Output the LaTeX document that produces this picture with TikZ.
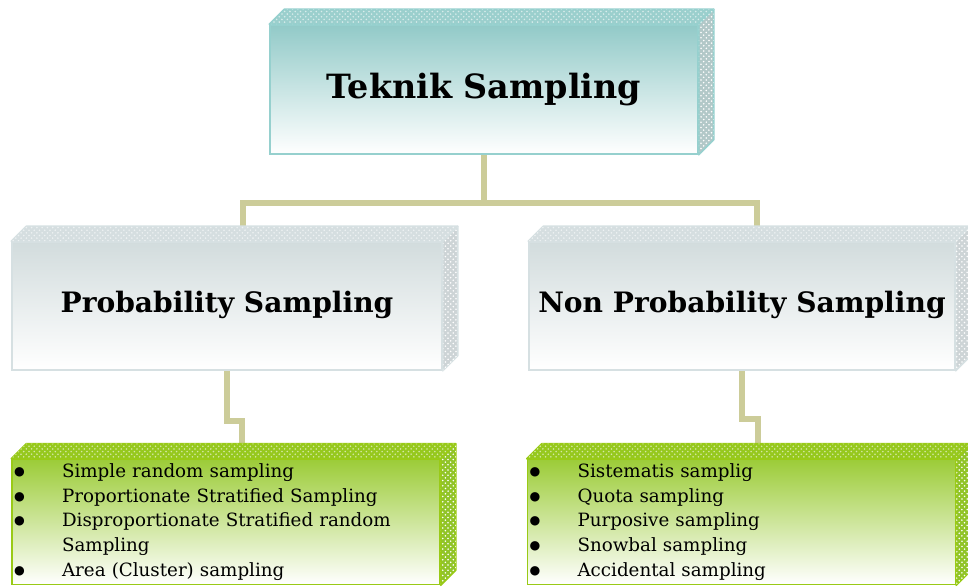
\documentclass[tikz,border=0pt]{standalone}
\usepackage{fontspec}
\setmainfont{DejaVu Serif}
\newfontfamily\dotfont{DejaVu Sans}
\usepackage{xcolor}
\usetikzlibrary{positioning, calc, patterns, backgrounds}

\definecolor{topteal}{RGB}{146,202,200}
\definecolor{edgeteal}{RGB}{150,208,206}
\definecolor{roofteal}{RGB}{155,207,205}
\definecolor{sideteal}{RGB}{178,200,200}
\definecolor{topgrey}{RGB}{210,220,221}
\definecolor{edgegrey}{RGB}{214,224,226}
\definecolor{roofgrey}{RGB}{213,222,224}
\definecolor{sidegrey}{RGB}{205,212,214}
\definecolor{topgreen}{RGB}{156,204,56}
\definecolor{edgegreen}{RGB}{153,202,22}
\definecolor{roofgreen}{RGB}{150,200,30}
\definecolor{sidegreen}{RGB}{145,196,40}
\definecolor{linkcol}{RGB}{204,204,153}

\newcommand{\bul}{\raisebox{1.1pt}{\dotfont\fontsize{7}{7}\selectfont ●}}

\tikzset{
    block/.style={draw=edge#1, line width=0.9pt, shading=axis,
        top color=top#1, bottom color=white, inner sep=0pt},
    headtext/.style={font=\fontsize{#1}{#1}\selectfont\bfseries},
    listbox/.style={block=green, minimum width=8.56cm, minimum height=2.5cm,
        text width=8.48cm, align=left, inner xsep=0.04cm,
        font=\fontsize{10.4}{14}\selectfont},
    link/.style={draw=linkcol, line width=3.4pt},
}

\begin{document}
\begin{tikzpicture}[x=0.02cm, y=-0.02cm]
    \useasboundingbox (0,0) rectangle (968,586);

    % boxes
    \node[block=teal, minimum width=8.56cm, minimum height=2.58cm, headtext=19] (top) at (484,89.5) {Teknik Sampling};
    \node[block=grey, minimum width=8.6cm, minimum height=2.56cm, headtext=16] (pl) at (227,306) {\raisebox{0.18cm}{Probability Sampling}};
    \node[block=grey, minimum width=8.52cm, minimum height=2.56cm, headtext=16] (pr) at (742,306) {\raisebox{0.18cm}{Non Probability Sampling}};
    \node[listbox] (gl) at (226,522) {%
        \begin{tabular}{@{}p{0.96cm}@{}l@{}}
            \bul & Simple random sampling\\
            \bul & Proportionate Stratified Sampling\\
            \bul & Disproportionate Stratified random\\
                 & Sampling\\
            \bul & Area (Cluster) sampling
        \end{tabular}};
    \node[listbox] (gr) at (741.5,522) {%
        \begin{tabular}{@{}p{0.96cm}@{}l@{}}
            \bul & Sistematis samplig\\
            \bul & Quota sampling\\
            \bul & Purposive sampling\\
            \bul & Snowbal sampling\\
            \bul & Accidental sampling
        \end{tabular}};

    % roof and side of each box
    \foreach \n/\c in {top/teal, pl/grey, pr/grey, gl/green, gr/green} {
        \filldraw[fill=roof\c, draw=edge\c, line width=0.9pt, line join=round,
            postaction={pattern=crosshatch dots, pattern color=white!60!roof\c}]
            (\n.north west) -- ++(15,-15) -- ($(\n.north east)+(15,-15)$) -- (\n.north east) -- cycle;
        \filldraw[fill=side\c, draw=edge\c, line width=0.9pt, line join=round,
            postaction={pattern=crosshatch dots, pattern color=white}]
            (\n.north east) -- ++(15,-15) -- ($(\n.south east)+(15,-15)$) -- (\n.south east) -- cycle;
    }

    % connectors
    \begin{pgfonlayer}{background}
        \draw[link] (top.south) -- ++(0,48) coordinate (hub);
        \draw[link] (hub) -| ([xshift=0.32cm]pl.north);
        \draw[link] (hub) -| ([xshift=0.3cm]pr.north);
        \draw[link] (pl.south) -- ++(0,50) -| ([xshift=0.32cm]gl.north);
        \draw[link] (pr.south) -- ++(0,48) -| ([xshift=0.33cm]gr.north);
    \end{pgfonlayer}
\end{tikzpicture}
\end{document}
